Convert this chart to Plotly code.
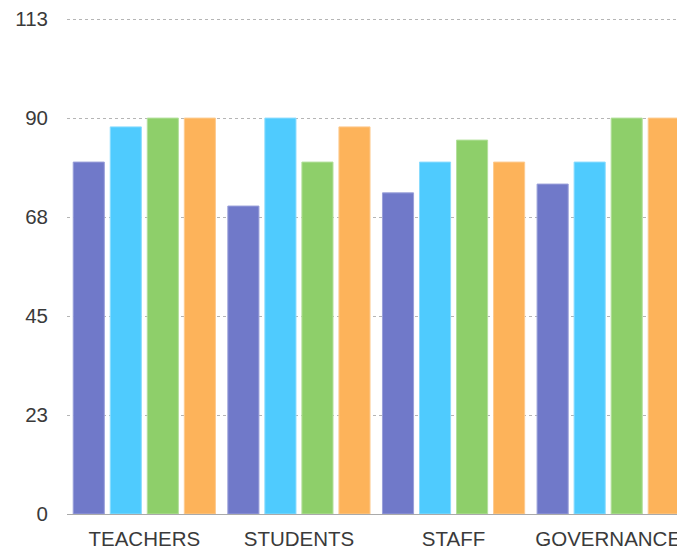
import plotly.graph_objects as go

categories = ["TEACHERS", "STUDENTS", "STAFF", "GOVERNANCE"]
series_a = [80, 70, 73, 75]
series_b = [88, 90, 80, 80]
series_c = [90, 80, 85, 90]
series_d = [90, 88, 80, 90]

tick_vals = [0, 22.5, 45, 67.5, 90, 112.5]
tick_text = ["0", "23", "45", "68", "90", "113"]

colors = ["#7079C9", "#4FCBFE", "#8ECF6A", "#FDB35A"]
edges = ["#9AA0DA", "#8ADCFE", "#B4E09C", "#FDCB90"]

fig = go.Figure()
for vals, col, edge in zip([series_a, series_b, series_c, series_d], colors, edges):
    fig.add_trace(go.Bar(x=categories, y=vals, marker_color=col,
                         marker_line_color=edge, marker_line_width=1))

fig.update_layout(width=677, height=550,
                  margin=dict(l=67, r=0, t=18, b=36),
                  barmode="group", bargap=0.042, bargroupgap=0.16,
                  showlegend=False,
                  plot_bgcolor="white", paper_bgcolor="white",
                  font=dict(family="Liberation Sans, Arial", size=20.5, color="#3a3a3a"))
fig.update_xaxes(range=[-0.5, 3.445], showgrid=False, showline=True,
                 linecolor="#aaaaaa", linewidth=1, ticks="", automargin=False,
                 ticklabelstandoff=6)
fig.update_yaxes(range=[0, 112.75], tickvals=tick_vals, ticktext=tick_text,
                 showgrid=True, gridcolor="#b5b5b5", griddash="dot", gridwidth=1,
                 zeroline=False, showline=False, ticklabelstandoff=18, automargin=False)

fig.write_html("out.html", config={"displayModeBar": False},
               post_script="document.body.style.margin='0';")
